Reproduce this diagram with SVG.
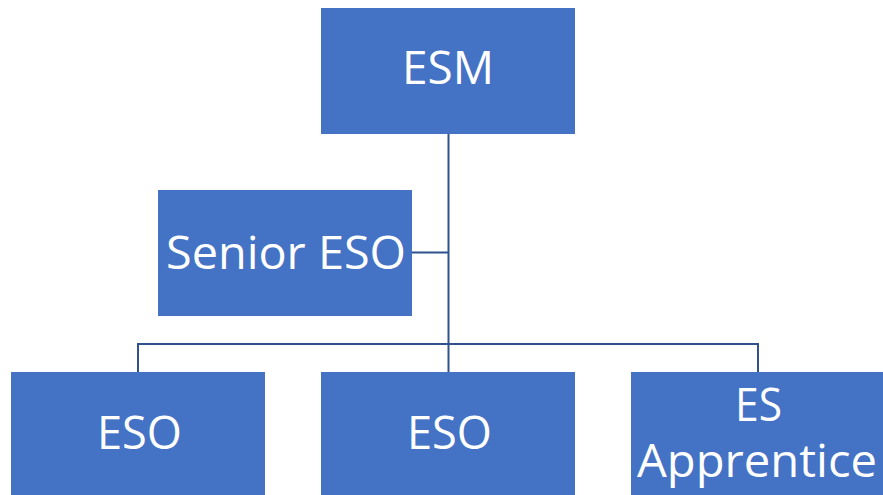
<svg xmlns="http://www.w3.org/2000/svg" width="883" height="495" viewBox="0 0 883 495">
<style>
.box{fill:#4472C4;}
.lbl{fill:#fff;font-family:"Open Sans","Liberation Sans",sans-serif;font-size:46px;}
.con{fill:none;stroke:#2F528F;stroke-width:2;}
</style>
<rect width="883" height="495" fill="#fff"/>
<g id="connectors">
<path class="con" d="M448.5 134 V344"/>
<path class="con" d="M412 252.5 H448.5"/>
<path class="con" d="M138 372 V344 H758 V372"/>
<path class="con" d="M448.5 344 V372"/>
</g>
<g id="esm">
<rect class="box" x="321" y="8" width="254" height="126"/>
<text class="lbl" x="402" y="84" textLength="92" lengthAdjust="spacingAndGlyphs">ESM</text>
</g>
<g id="senior-eso">
<rect class="box" x="158" y="190" width="254" height="126"/>
<text class="lbl" x="166" y="269" textLength="240" lengthAdjust="spacingAndGlyphs">Senior ESO</text>
</g>
<g id="eso1">
<rect class="box" x="11" y="372" width="254" height="126"/>
<text class="lbl" x="97" y="449" textLength="85" lengthAdjust="spacingAndGlyphs">ESO</text>
</g>
<g id="eso2">
<rect class="box" x="321" y="372" width="254" height="126"/>
<text class="lbl" x="407" y="449" textLength="85" lengthAdjust="spacingAndGlyphs">ESO</text>
</g>
<g id="es-apprentice">
<rect class="box" x="631" y="372" width="254" height="126"/>
<text class="lbl" x="735" y="421" textLength="47" lengthAdjust="spacingAndGlyphs">ES</text>
<text class="lbl" x="637" y="477" textLength="240" lengthAdjust="spacingAndGlyphs">Apprentice</text>
</g>
</svg>
